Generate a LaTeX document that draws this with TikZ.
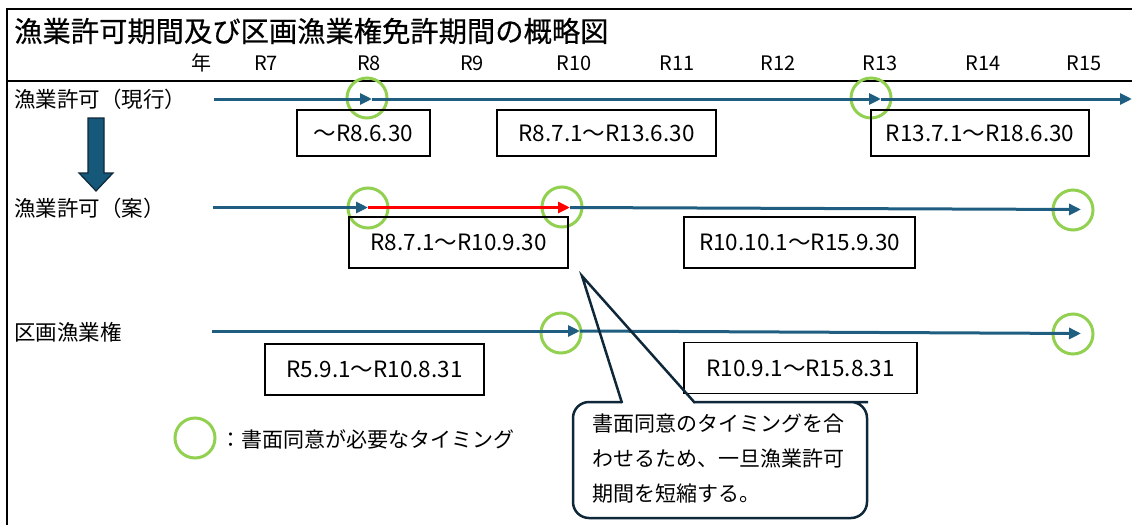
\documentclass[tikz,border=0pt]{standalone}
\usepackage{fontspec}
\setmainfont{Noto Sans CJK JP}
\newfontfamily\titlefont[FakeBold=0.5]{Noto Sans CJK JP}
\usetikzlibrary{arrows.meta}
\definecolor{lblue}{RGB}{31,94,128}
\definecolor{cgreen}{RGB}{146,208,80}
\definecolor{navy}{RGB}{14,40,58}
\definecolor{darrow}{RGB}{22,88,122}
\tikzset{
  tl/.style={line width=3pt,draw=lblue,-{Triangle[length=12pt,width=11pt]}},
  tlr/.style={line width=3pt,draw=red,-{Triangle[length=12pt,width=11pt]}},
  ring/.style={circle,draw=cgreen,line width=3pt,minimum size=40pt,inner sep=0pt},
  pbox/.style={draw=black,line width=1.2pt,inner sep=0pt,font=\fontsize{22.5}{22.5}\selectfont},
  rowlab/.style={anchor=west,inner sep=0pt,font=\fontsize{21.5}{21.5}\selectfont},
  yr/.style={inner sep=0pt,font=\fontsize{20}{20}\selectfont},
}
\begin{document}
\begin{tikzpicture}[x=1pt,y=-1pt]
\useasboundingbox (0,0) rectangle (1132,525);
% frame
\draw[line width=2pt] (7,525) -- (7,9) -- (1132,9);
\draw[line width=1.5pt] (7,81) -- (1132,81);
\node[anchor=west,inner sep=0pt,font=\fontsize{28.3}{28.3}\titlefont] (title) at (14,31) {漁業許可期間及び区画漁業権免許期間の概略図};
% years
\node[yr] (y0) at (201,63) {年};
\node[yr] (y7) at (266,63) {R7};
\node[yr] (y8) at (369,63) {R8};
\node[yr] (y9) at (472,63) {R9};
\node[yr] (y10) at (574,63) {R10};
\node[yr] (y11) at (677,63) {R11};
\node[yr] (y12) at (778,63) {R12};
\node[yr] (y13) at (880,63) {R13};
\node[yr] (y14) at (983,63) {R14};
\node[yr] (y15) at (1084,63) {R15};
% row labels
\node[rowlab] (r1) at (14,99) {漁業許可（現行）};
\node[rowlab] (r2) at (14,208) {漁業許可（案）};
\node[rowlab] (r3) at (14,332) {区画漁業権};
% down arrow
\draw[fill=darrow,draw=navy,line width=1.2pt] (88,118) -- (104,118) -- (104,173) -- (113,173) -- (96,191) -- (79,173) -- (88,173) -- cycle;
% rings
\node[ring] (c1) at (367,98) {};
\node[ring] (c2) at (871,98) {};
\node[ring] (c3) at (368,208) {};
\node[ring] (c4) at (562,207) {};
\node[ring] (c5) at (1073,210) {};
\node[ring] (c6) at (561,333) {};
\node[ring] (c7) at (1073,334) {};
% row 1
\coordinate (a0) at (214,99);
\coordinate (a1) at (372,99);
\coordinate (a2) at (881,99);
\coordinate (a3) at (1132,99);
\draw[tl] (a0) -- (a1);
\draw[tl] (a1) -- (a2);
\draw[tl] (a2) -- (a3);
% row 2
\coordinate (b0) at (213,207.5);
\coordinate (b1) at (368,207.5);
\coordinate (b2) at (570,207.5);
\coordinate (b3) at (1081,209.5);
\draw[tl] (b0) -- (b1);
\draw[tlr] (b1) -- (b2);
\draw[tl] (b2) -- (b3);
% row 3
\coordinate (d0) at (212,331);
\coordinate (d1) at (580,331);
\coordinate (d2) at (1081,333.5);
\draw[tl] (d0) -- (d1);
\draw[tl] (d1) -- (d2);
% boxes
\node[pbox,minimum width=133pt,minimum height=46pt] (p1) at (363.5,133) {～R8.6.30};
\node[pbox,minimum width=219pt,minimum height=46pt] (p2) at (606.5,133) {R8.7.1～R13.6.30};
\node[pbox,minimum width=218pt,minimum height=46pt] (p3) at (980,133) {R13.7.1～R18.6.30};
\node[pbox,minimum width=219pt,minimum height=51pt] (p4) at (458.5,242.5) {R8.7.1～R10.9.30};
\node[pbox,minimum width=231pt,minimum height=51pt] (p5) at (799.5,242.5) {R10.10.1～R15.9.30};
\node[pbox,minimum width=219pt,minimum height=51pt] (p6) at (374.5,369.5) {R5.9.1～R10.8.31};
\node[pbox,minimum width=233pt,minimum height=51pt] (p7) at (800.5,368) {R10.9.1～R15.8.31};
% legend
\node[ring] (lg) at (195,438) {};
\node[anchor=west,inner sep=0pt,font=\fontsize{21}{21}\selectfont] (lgt) at (220,439) {：書面同意が必要なタイミング};
% callout
\coordinate (tip) at (582,276);
\draw[navy,line width=2.5pt,fill=white,rounded corners=16pt]
  (695,402) -- (852,402) -- (867,402) -- (867,518) -- (573,518) -- (573,402) -- (622,402);
\draw[navy,line width=2.5pt,line join=miter] (622,403) -- (tip) -- (695,403);
\node[anchor=north west,inner sep=0pt,align=left,font=\fontsize{21}{35}\selectfont] (cl) at (592,414) {書面同意のタイミングを合\\わせるため、一旦漁業許可\\期間を短縮する。};
\end{tikzpicture}
\end{document}
